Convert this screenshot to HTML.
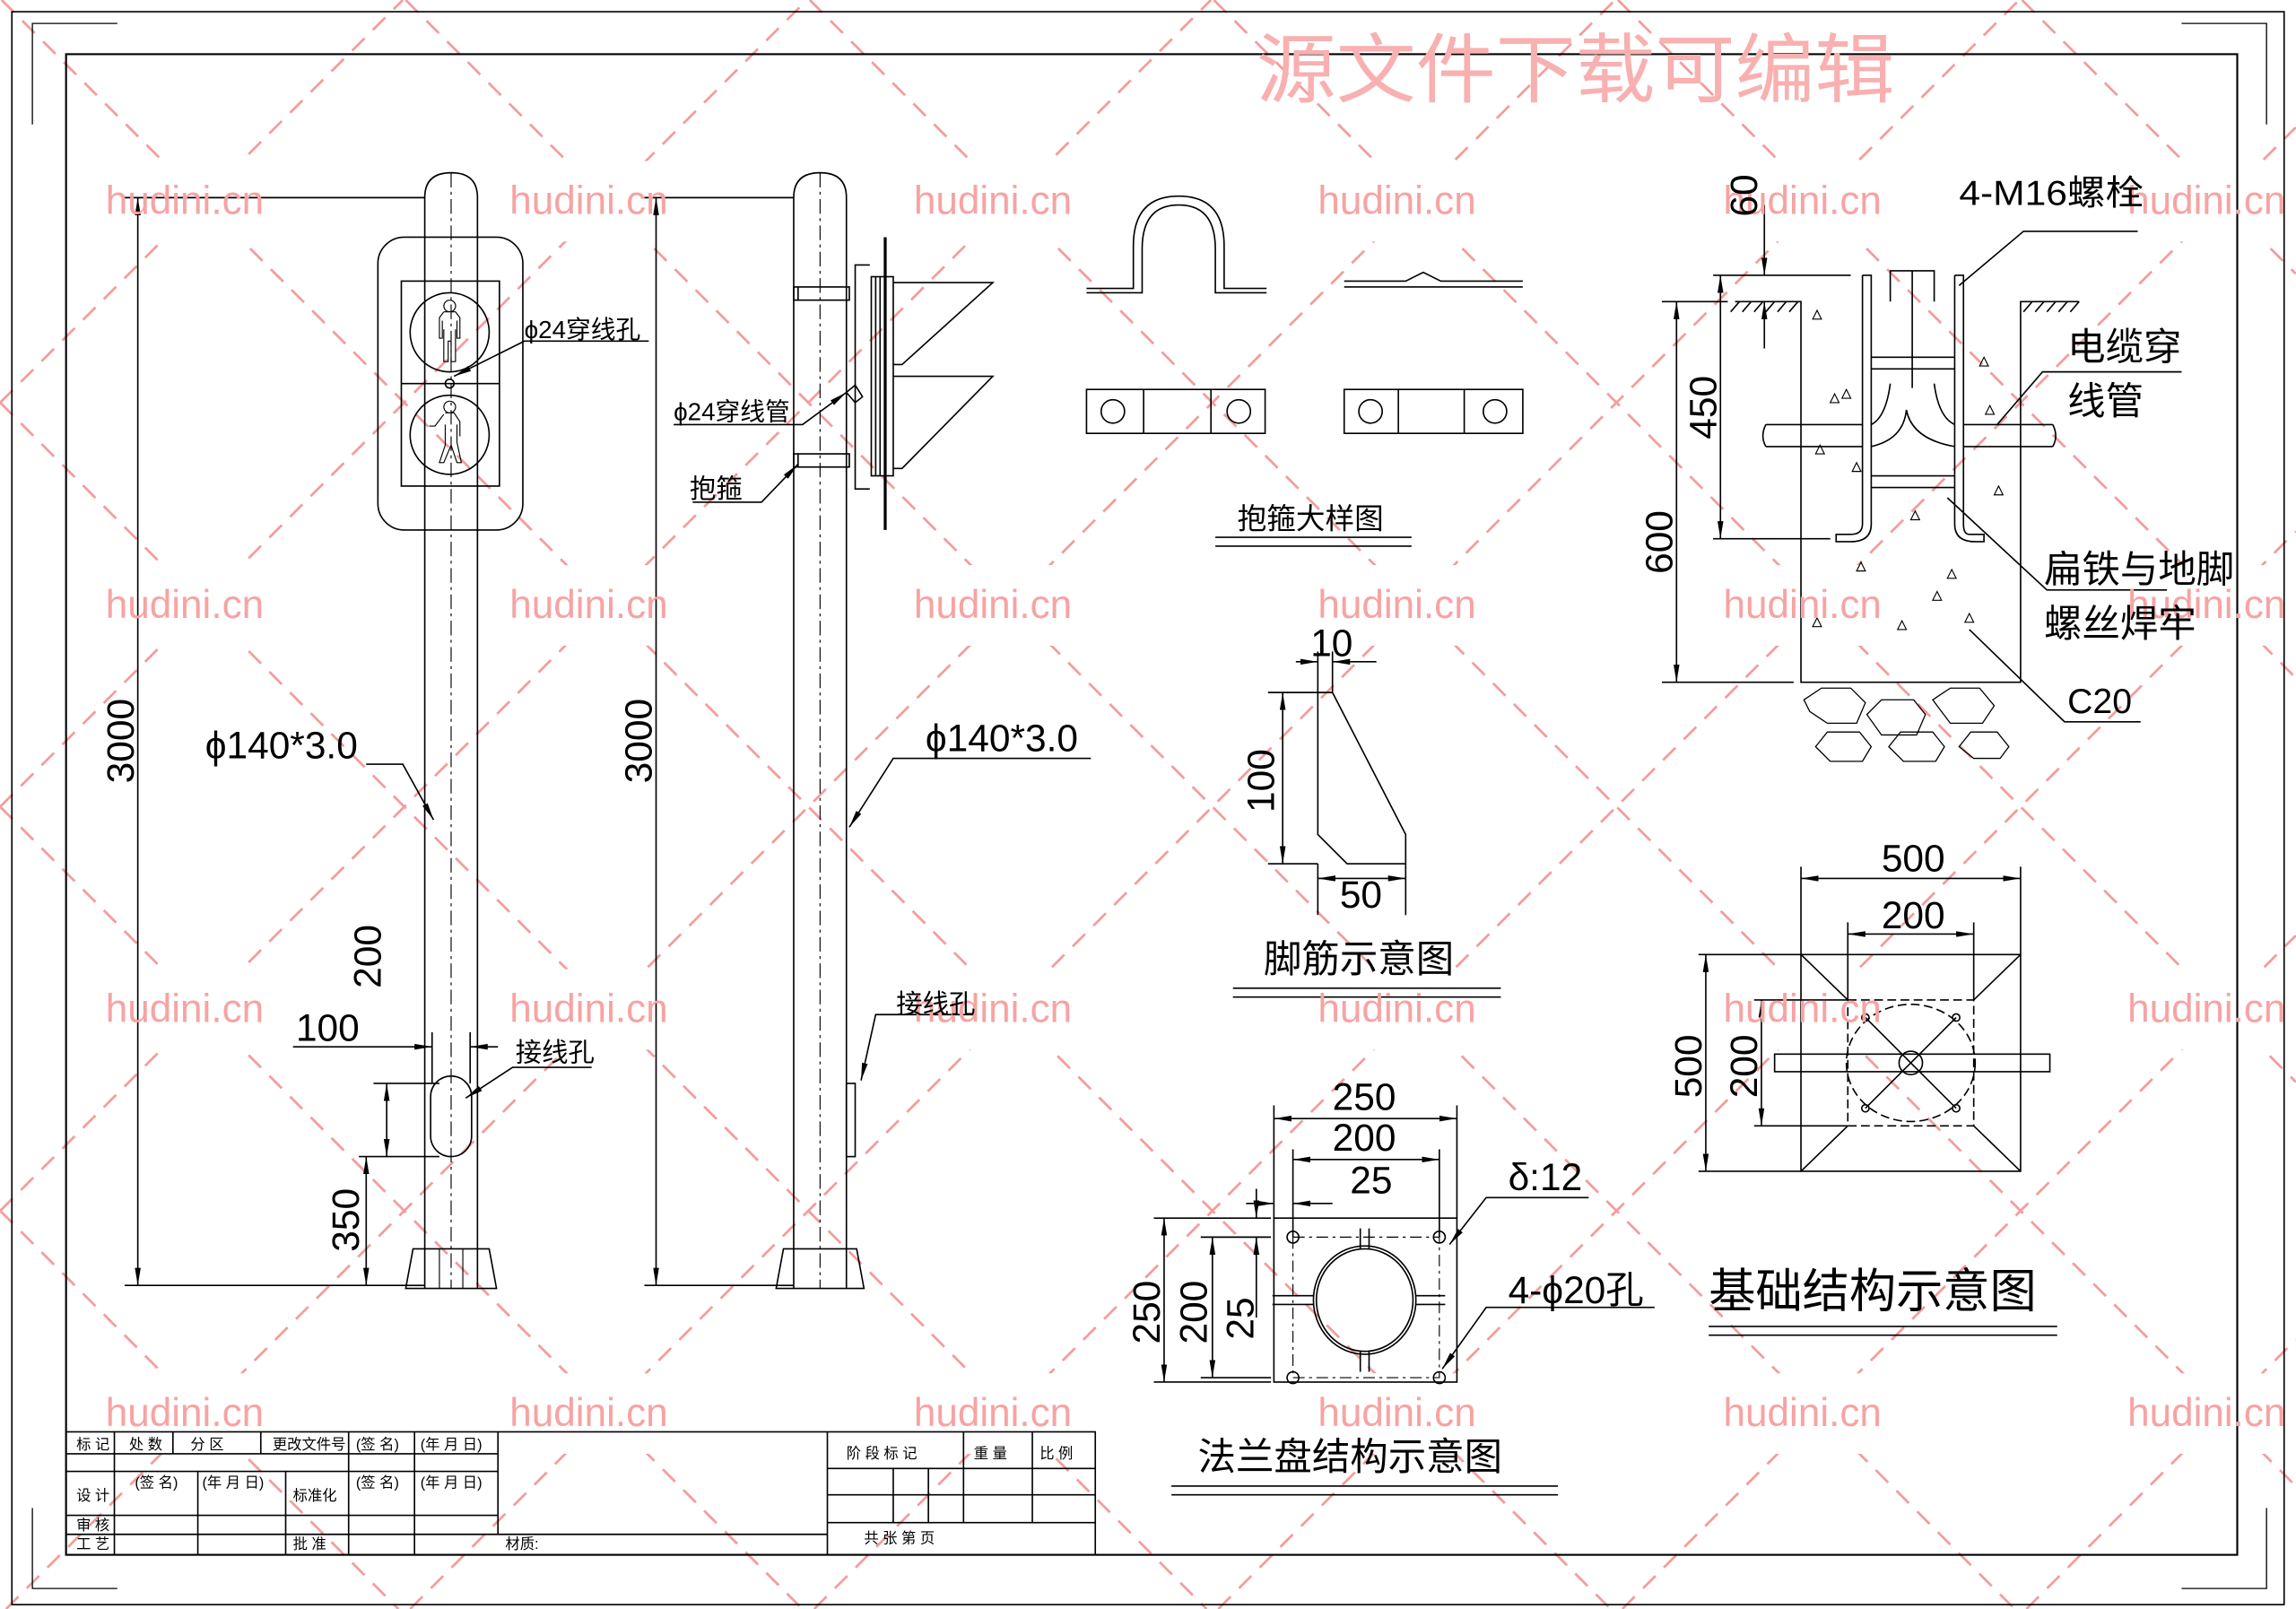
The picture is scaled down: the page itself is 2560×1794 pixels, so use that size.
<!DOCTYPE html>
<html><head><meta charset="utf-8"><style>
html,body{margin:0;padding:0;background:#fff;width:2560px;height:1794px;overflow:hidden}
svg{display:block;position:absolute;left:0;top:0}
text{font-family:"Liberation Sans","Noto Sans CJK SC",sans-serif}
.cn{font-family:"Liberation Serif","Noto Serif CJK SC","Noto Sans CJK SC",serif}
</style></head><body>
<svg width="2560" height="1794" viewBox="0 0 1568 1099" xmlns="http://www.w3.org/2000/svg">
<defs>
<marker id="ar" viewBox="0 0 12 4" refX="12" refY="2" markerWidth="12" markerHeight="4" markerUnits="userSpaceOnUse" orient="auto-start-reverse"><path d="M0 0L12 2L0 4Z" fill="#000"/></marker>
</defs>
<rect width="1568" height="1099" fill="#fff"/>
<g stroke="#f59c9c" stroke-width="1.7" stroke-dasharray="12,8" fill="none">
<line x1="0" y1="827" x2="272" y2="1099"/><line x1="0" y1="551" x2="548" y2="1099"/><line x1="0" y1="275" x2="824" y2="1099"/><line x1="1" y1="0" x2="1100" y2="1099"/><line x1="277" y1="0" x2="1376" y2="1099"/><line x1="553" y1="0" x2="1568" y2="1015"/><line x1="829" y1="0" x2="1568" y2="739"/><line x1="1105" y1="0" x2="1568" y2="463"/><line x1="1381" y1="0" x2="1568" y2="187"/>
<line x1="0" y1="275" x2="275" y2="0"/><line x1="0" y1="551" x2="551" y2="0"/><line x1="0" y1="827" x2="827" y2="0"/><line x1="4" y1="1099" x2="1103" y2="0"/><line x1="280" y1="1099" x2="1379" y2="0"/><line x1="556" y1="1099" x2="1568" y2="87"/><line x1="832" y1="1099" x2="1568" y2="363"/><line x1="1108" y1="1099" x2="1568" y2="639"/><line x1="1384" y1="1099" x2="1568" y2="915"/>
</g>
<g fill="#fff">
<rect x="88" y="110" width="95" height="55"/><rect x="364" y="110" width="95" height="55"/><rect x="640" y="110" width="95" height="55"/><rect x="916" y="110" width="95" height="55"/><rect x="1193" y="110" width="95" height="55"/><rect x="1469" y="110" width="95" height="55"/>
<rect x="88" y="386" width="95" height="55"/><rect x="364" y="386" width="95" height="55"/><rect x="640" y="386" width="95" height="55"/><rect x="916" y="386" width="95" height="55"/><rect x="1193" y="386" width="95" height="55"/><rect x="1469" y="386" width="95" height="55"/>
<rect x="88" y="662" width="95" height="55"/><rect x="364" y="662" width="95" height="55"/><rect x="640" y="662" width="95" height="55"/><rect x="916" y="662" width="95" height="55"/><rect x="1193" y="662" width="95" height="55"/><rect x="1469" y="662" width="95" height="55"/>
<rect x="88" y="938" width="95" height="55"/><rect x="364" y="938" width="95" height="55"/><rect x="640" y="938" width="95" height="55"/><rect x="916" y="938" width="95" height="55"/><rect x="1193" y="938" width="95" height="55"/><rect x="1469" y="938" width="95" height="55"/>
</g>

<g stroke="#000" fill="none" stroke-width="1">
<rect x="8" y="8" width="1552" height="1088"/>
<rect x="45" y="37" width="1483" height="1025" stroke-width="1.3"/>
<path d="M22 85 V16 H80 M1490 16 H1548 V85 M22 1030 V1085 H80 M1548 1030 V1085 H1490" stroke-width="0.8"/>
</g>

<g stroke="#000" fill="none" stroke-width="1">
<path d="M290 880 V135 Q290 118 308 118 Q326 118 326 135 V880"/>
<line x1="308" y1="118" x2="308" y2="880" stroke-dasharray="10,3,2,3" stroke-width="0.7"/>
<path d="M282 853 H334 L339 880 H277 Z"/>
<path d="M300 853 V880 M316 853 V880" stroke-width="0.7"/>
<rect x="258" y="162" width="99" height="200" rx="18"/>
<rect x="274" y="192" width="67" height="140"/>
<line x1="274" y1="262" x2="341" y2="262"/>
<circle cx="307" cy="227" r="27"/><circle cx="307" cy="297" r="27"/>
<circle cx="307" cy="262" r="3"/>
<path d="M307 205 a4 4 0 1 0 0.1 0 M303 213 h8 l3 4 v14 h-2 v-12 M302 219 v12 h-2 v-14 l3 -4 M303 225 v22 h3 v-14 h2 v14 h3 v-22" stroke-width="0.7"/>
<path d="M307 274 a4 4 0 1 0 0.1 0 M304 282 h6 l4 6 v10 M303 283 l-6 8 h-4 M304 290 v14 l-4 12 h3 l5 -12 l4 12 h3 l-3 -14 v-12" stroke-width="0.7"/>
<rect x="294" y="735" width="28" height="55" rx="14"/>
<line x1="94" y1="135" x2="94" y2="878" marker-start="url(#ar)" marker-end="url(#ar)"/>
<line x1="85" y1="135" x2="290" y2="135"/><line x1="85" y1="878" x2="290" y2="878"/>
<line x1="264" y1="740" x2="264" y2="790" marker-start="url(#ar)" marker-end="url(#ar)"/>
<line x1="250" y1="790" x2="250" y2="878" marker-start="url(#ar)" marker-end="url(#ar)"/>
<line x1="255" y1="740" x2="300" y2="740"/><line x1="245" y1="790" x2="300" y2="790"/>
<line x1="200" y1="715" x2="295" y2="715" marker-end="url(#ar)"/><line x1="340" y1="715" x2="321" y2="715" marker-end="url(#ar)"/>
<line x1="295" y1="705" x2="295" y2="740"/><line x1="321" y1="705" x2="321" y2="740"/>
<polyline points="250,522 275,522 296,560" marker-end="url(#ar)"/>
<polyline points="404,729 350,729 318,750" marker-end="url(#ar)"/>
<polyline points="443,233 358,233 310,257" marker-end="url(#ar)"/>
<path d="M542 880 V135 Q542 118 560 118 Q578 118 578 135 V880"/>
<line x1="560" y1="118" x2="560" y2="880" stroke-dasharray="10,3,2,3" stroke-width="0.7"/>
<path d="M535 853 H585 L590 880 H530 Z"/>
<rect x="578" y="740" width="6" height="50"/>
<line x1="604.5" y1="162" x2="604.5" y2="362" stroke-width="2"/>
<rect x="595" y="189" width="15" height="136"/>
<path d="M598 189 V325 M601 189 V325"/>
<path d="M594 181 H584 V334 H594"/>
<path d="M610 193 H678 L616 249 H610 M610 257 H678 L616 320 H610"/>
<rect x="542" y="196" width="38" height="9"/><rect x="542" y="310" width="38" height="9"/>
<path d="M545 196 V205 M545 310 V319"/>
<path d="M578 268 l6 -5 l5 8 l-5 4 Z"/>
<line x1="448" y1="135" x2="448" y2="878" marker-start="url(#ar)" marker-end="url(#ar)"/>
<line x1="440" y1="135" x2="542" y2="135"/><line x1="440" y1="878" x2="542" y2="878"/>
<polyline points="745,518 610,518 580,565" marker-end="url(#ar)"/>
<polyline points="665,693 598,693 588,738" marker-end="url(#ar)"/>
<polyline points="460,290 548,290 578,268" marker-end="url(#ar)"/>
<polyline points="473,343 520,343 545,317" marker-end="url(#ar)"/>
<path d="M742 200 H780 V170 Q780 140 805 140 Q830 140 830 170 V200 H865"/>
<path d="M742 197 L774 197 L774 168 Q774 134 805 134 Q836 134 836 168 V197 H865"/>
<path d="M918 192 H960 L972 186 L984 192 H1040 M918 196 H1040"/>
<rect x="742" y="266" width="122" height="30"/><line x1="781" y1="266" x2="781" y2="296"/><line x1="827" y1="266" x2="827" y2="296"/>
<circle cx="760" cy="281" r="8"/><circle cx="846" cy="281" r="8"/>
<rect x="918" y="266" width="122" height="30"/><line x1="955" y1="266" x2="955" y2="296"/><line x1="1000" y1="266" x2="1000" y2="296"/>
<circle cx="936" cy="281" r="8"/><circle cx="1021" cy="281" r="8"/>
<line x1="830" y1="367" x2="964" y2="367"/><line x1="830" y1="373" x2="964" y2="373"/>
<path d="M900 473 H910 L960 570 V590 H920 L900 570 Z"/>
<line x1="866" y1="473" x2="900" y2="473"/><line x1="866" y1="590" x2="900" y2="590"/>
<line x1="876" y1="473" x2="876" y2="590" marker-start="url(#ar)" marker-end="url(#ar)"/>
<line x1="885" y1="452" x2="900" y2="452" marker-end="url(#ar)"/><line x1="940" y1="452" x2="910" y2="452" marker-end="url(#ar)"/>
<line x1="900" y1="445" x2="900" y2="473"/><line x1="910" y1="445" x2="910" y2="473"/>
<line x1="900" y1="600" x2="960" y2="600" marker-start="url(#ar)" marker-end="url(#ar)"/><line x1="900" y1="590" x2="900" y2="625"/><line x1="960" y1="590" x2="960" y2="625"/>
<line x1="842" y1="675" x2="1025" y2="675"/><line x1="842" y1="681" x2="1025" y2="681"/>
<rect x="870" y="832" width="125" height="112"/>
<ellipse cx="932" cy="888" rx="35" ry="37"/><ellipse cx="932" cy="888" rx="33" ry="35"/>
<path d="M929 839 V853 M935 839 V853 M929 923 V937 M935 923 V937 M869 885 H897 M869 891 H897 M967 885 H987 M967 891 H987"/>
<path d="M883 845 H983 V941 H883 Z" stroke-dasharray="8,3,2,3" stroke-width="0.7"/>
<circle cx="883" cy="845" r="4"/><circle cx="983" cy="845" r="4"/><circle cx="883" cy="941" r="4"/><circle cx="983" cy="941" r="4"/>
<line x1="870" y1="764" x2="995" y2="764" marker-start="url(#ar)" marker-end="url(#ar)"/>
<line x1="883" y1="792" x2="983" y2="792" marker-start="url(#ar)" marker-end="url(#ar)"/>
<line x1="851" y1="822" x2="870" y2="822" marker-end="url(#ar)"/><line x1="910" y1="822" x2="883" y2="822" marker-end="url(#ar)"/>
<line x1="870" y1="755" x2="870" y2="832"/><line x1="995" y1="755" x2="995" y2="832"/><line x1="883" y1="785" x2="883" y2="845"/><line x1="983" y1="785" x2="983" y2="845"/>
<line x1="788" y1="832" x2="868" y2="832"/><line x1="788" y1="944" x2="868" y2="944"/><line x1="820" y1="845" x2="868" y2="845"/><line x1="820" y1="941" x2="868" y2="941"/>
<line x1="795" y1="832" x2="795" y2="944" marker-start="url(#ar)" marker-end="url(#ar)"/>
<line x1="828" y1="845" x2="828" y2="941" marker-start="url(#ar)" marker-end="url(#ar)"/>
<line x1="858" y1="812" x2="858" y2="832" marker-end="url(#ar)"/><line x1="858" y1="900" x2="858" y2="845" marker-end="url(#ar)"/>
<polyline points="1085,818 1015,818 990,850" marker-end="url(#ar)"/>
<polyline points="1130,893 1015,893 985,935" marker-end="url(#ar)"/>
<line x1="800" y1="1015" x2="1064" y2="1015"/><line x1="800" y1="1021" x2="1064" y2="1021"/>
<path d="M1185 206 H1230 V466 H1380 V206 H1420"/>
<path d="M1188 206 l-6 7 M1196 206 l-6 7 M1204 206 l-6 7 M1212 206 l-6 7 M1220 206 l-6 7 M1228 206 l-6 7 M1388 206 l-6 7 M1396 206 l-6 7 M1404 206 l-6 7 M1412 206 l-6 7 M1420 206 l-6 7"/>
<path d="M1291 206 V185 H1321 V206 M1306 185 V265"/>
<path d="M1272 188 V358 Q1272 365 1264 365 H1254 V370 H1264 Q1278 370 1278 358 V188 H1272"/>
<path d="M1335 188 V358 Q1335 370 1349 370 H1355 V365 H1345 Q1341 365 1341 358 V188 H1335"/>
<path d="M1278 244 H1335 M1278 252 H1335 M1278 325 H1335 M1278 333 H1335"/>
<path d="M1206 290 H1272 M1206 305 H1272 M1341 290 H1402 M1341 305 H1402 M1206 290 q-4 8 0 15 M1402 290 q4 8 0 15"/>
<path d="M1291 262 Q1288 285 1278 290 M1321 262 Q1324 285 1335 290 M1278 305 Q1300 300 1302 280 Q1306 300 1335 305"/>
<path d="M1238 218 l3 -6 l3 6Z M1250 275 l3 -6 l3 6Z M1258 272 l3 -6 l3 6Z M1352 250 l3 -6 l3 6Z M1356 283 l3 -6 l3 6Z M1240 310 l3 -6 l3 6Z M1265 322 l3 -6 l3 6Z M1305 355 l3 -6 l3 6Z M1268 390 l3 -6 l3 6Z M1320 410 l3 -6 l3 6Z M1238 428 l3 -6 l3 6Z M1296 430 l3 -6 l3 6Z M1342 425 l3 -6 l3 6Z M1362 338 l3 -6 l3 6Z M1330 395 l3 -6 l3 6Z" stroke-width="0.7"/>
<path d="M1232 478 l12 -8 h20 l10 10 l-6 14 h-20 l-12 -8 Z M1275 488 l10 -10 h22 l8 10 l-6 14 h-24 Z M1320 478 l12 -8 h20 l10 12 l-8 12 h-22 Z M1240 510 l8 -10 h22 l8 10 l-6 10 h-22 Z M1290 510 l8 -10 h22 l8 10 l-6 10 h-22 Z M1338 510 l8 -10 h18 l8 10 l-6 8 h-18 Z" stroke-width="0.8"/>
<line x1="1145" y1="206" x2="1145" y2="466" marker-start="url(#ar)" marker-end="url(#ar)"/><line x1="1135" y1="206" x2="1180" y2="206"/><line x1="1135" y1="466" x2="1225" y2="466"/>
<line x1="1175" y1="188" x2="1175" y2="368" marker-start="url(#ar)" marker-end="url(#ar)"/><line x1="1170" y1="368" x2="1250" y2="368"/><line x1="1170" y1="188" x2="1264" y2="188"/>
<line x1="1205" y1="140" x2="1205" y2="188" marker-end="url(#ar)"/><line x1="1205" y1="238" x2="1205" y2="206" marker-end="url(#ar)"/>
<polyline points="1460,158 1382,158 1338,195"/>
<polyline points="1490,254 1395,254 1364,290"/>
<polyline points="1480,403 1398,403 1330,340"/>
<polyline points="1462,493 1410,493 1345,430"/>
<rect x="1230" y="652" width="150" height="148"/>
<path d="M1230 652 L1262 683 M1380 652 L1348 683 M1230 800 L1262 769 M1380 800 L1348 769"/>
<rect x="1262" y="683" width="86" height="86" stroke-dasharray="6,3"/>
<ellipse cx="1305" cy="726" rx="44" ry="40" stroke-dasharray="6,3"/>
<circle cx="1305" cy="726" r="8"/>
<path d="M1274 695 L1336 757 M1336 695 L1274 757"/>
<circle cx="1274" cy="695" r="2.5"/><circle cx="1336" cy="695" r="2.5"/><circle cx="1274" cy="757" r="2.5"/><circle cx="1336" cy="757" r="2.5"/>
<rect x="1212" y="720" width="188" height="12"/>
<line x1="1230" y1="600" x2="1380" y2="600" marker-start="url(#ar)" marker-end="url(#ar)"/><line x1="1262" y1="638" x2="1348" y2="638" marker-start="url(#ar)" marker-end="url(#ar)"/>
<line x1="1230" y1="592" x2="1230" y2="652"/><line x1="1380" y1="592" x2="1380" y2="652"/>
<line x1="1262" y1="630" x2="1262" y2="683"/><line x1="1348" y1="630" x2="1348" y2="683"/>
<line x1="1165" y1="652" x2="1165" y2="800" marker-start="url(#ar)" marker-end="url(#ar)"/><line x1="1160" y1="652" x2="1230" y2="652"/><line x1="1160" y1="800" x2="1230" y2="800"/>
<line x1="1203" y1="683" x2="1203" y2="769" marker-start="url(#ar)" marker-end="url(#ar)"/><line x1="1198" y1="683" x2="1262" y2="683"/><line x1="1198" y1="769" x2="1262" y2="769"/>
<line x1="1167" y1="906" x2="1405" y2="906"/><line x1="1167" y1="912" x2="1405" y2="912"/>
<rect x="45" y="978" width="703" height="84"/>
<line x1="45" y1="993" x2="340" y2="993"/><line x1="45" y1="1005" x2="340" y2="1005"/><line x1="45" y1="1035" x2="340" y2="1035"/><line x1="45" y1="1048" x2="565" y2="1048"/>
<line x1="340" y1="978" x2="340" y2="1048"/><line x1="565" y1="978" x2="565" y2="1062"/>
<line x1="78" y1="978" x2="78" y2="1062"/><line x1="118" y1="978" x2="118" y2="993"/><line x1="135" y1="1005" x2="135" y2="1062"/>
<line x1="178" y1="978" x2="178" y2="993"/><line x1="195" y1="1005" x2="195" y2="1062"/><line x1="238" y1="978" x2="238" y2="1062"/><line x1="283" y1="978" x2="283" y2="1062"/>
<line x1="565" y1="1003" x2="748" y2="1003"/><line x1="565" y1="1021" x2="748" y2="1021"/><line x1="565" y1="1040" x2="748" y2="1040"/>
<line x1="610" y1="1003" x2="610" y2="1040"/><line x1="634" y1="1003" x2="634" y2="1040"/><line x1="658" y1="978" x2="658" y2="1040"/><line x1="705" y1="978" x2="705" y2="1040"/>
</g>
<g fill="#f7a3a3" font-size="27">
<text x="72" y="146">hudini.cn</text><text x="348" y="146">hudini.cn</text><text x="624" y="146">hudini.cn</text><text x="900" y="146">hudini.cn</text><text x="1177" y="146">hudini.cn</text><text x="1453" y="146">hudini.cn</text>
<text x="72" y="422">hudini.cn</text><text x="348" y="422">hudini.cn</text><text x="624" y="422">hudini.cn</text><text x="900" y="422">hudini.cn</text><text x="1177" y="422">hudini.cn</text><text x="1453" y="422">hudini.cn</text>
<text x="72" y="698">hudini.cn</text><text x="348" y="698">hudini.cn</text><text x="624" y="698">hudini.cn</text><text x="900" y="698">hudini.cn</text><text x="1177" y="698">hudini.cn</text><text x="1453" y="698">hudini.cn</text>
<text x="72" y="974">hudini.cn</text><text x="348" y="974">hudini.cn</text><text x="624" y="974">hudini.cn</text><text x="900" y="974">hudini.cn</text><text x="1177" y="974">hudini.cn</text><text x="1453" y="974">hudini.cn</text>
<text x="858" y="66" font-size="52" fill="#f8b0b0" textLength="436" lengthAdjust="spacingAndGlyphs">源文件下载可编辑</text>
</g>
<g font-size="26" fill="#000">
<text transform="translate(91,535) rotate(-90)">3000</text>
<text transform="translate(445,535) rotate(-90)">3000</text>
<text x="140" y="518">ϕ140*3.0</text>
<text x="632" y="513">ϕ140*3.0</text>
<text x="202" y="711">100</text>
<text transform="translate(260,675) rotate(-90)">200</text>
<text transform="translate(245,855) rotate(-90)">350</text>
<text x="895" y="448">10</text>
<text transform="translate(870,555) rotate(-90)">100</text>
<text x="915" y="620">50</text>
<text x="910" y="758">250</text><text x="910" y="786">200</text><text x="922" y="815">25</text>
<text x="1030" y="813">δ:12</text>
<text x="1030" y="890">4-ϕ20孔</text>
<text transform="translate(792,918) rotate(-90)">250</text>
<text transform="translate(824,918) rotate(-90)">200</text>
<text transform="translate(856,915) rotate(-90)">25</text>
<text x="1285" y="595">500</text><text x="1285" y="634">200</text>
<text transform="translate(1162,750) rotate(-90)">500</text>
<text transform="translate(1200,750) rotate(-90)">200</text>
<text transform="translate(1200,148) rotate(-90)">60</text>
<text transform="translate(1172,300) rotate(-90)">450</text>
<text transform="translate(1142,392) rotate(-90)">600</text>
</g>
<g class="cn" fill="#000">
<text x="358" y="231" font-size="17">ϕ24穿线孔</text>
<text x="460" y="287" font-size="17">ϕ24穿线管</text>
<text x="471" y="340" font-size="18">抱箍</text>
<text x="352" y="725" font-size="18">接线孔</text>
<text x="612" y="692" font-size="18">接线孔</text>
<text x="845" y="361" font-size="20">抱箍大样图</text>
<text x="863" y="664" font-size="26">脚筋示意图</text>
<text x="818" y="1004" font-size="26">法兰盘结构示意图</text>
<text x="1167" y="893" font-size="32">基础结构示意图</text>
<text x="1338" y="140" font-size="24" textLength="126" lengthAdjust="spacingAndGlyphs">4-M16螺栓</text>
<text x="1412" y="246" font-size="26">电缆穿</text><text x="1412" y="283" font-size="26">线管</text>
<text x="1396" y="398" font-size="26">扁铁与地脚</text><text x="1396" y="435" font-size="26">螺丝焊牢</text>
<text x="1412" y="487" font-size="24">C20</text>
<g font-size="10">
<text x="52" y="990">标 记</text><text x="88" y="990">处 数</text><text x="130" y="990">分 区</text><text x="186" y="990">更改文件号</text><text x="243" y="990">(签 名)</text><text x="287" y="990">(年 月 日)</text>
<text x="92" y="1016">(签 名)</text><text x="138" y="1016">(年 月 日)</text><text x="243" y="1016">(签 名)</text><text x="287" y="1016">(年 月 日)</text>
<text x="52" y="1025">设  计</text><text x="200" y="1025">标准化</text>
<text x="52" y="1045">审  核</text><text x="52" y="1058">工  艺</text><text x="200" y="1058">批  准</text><text x="345" y="1058">材质:</text>
<text x="578" y="996">阶 段 标 记</text><text x="665" y="996">重 量</text><text x="710" y="996">比 例</text>
<text x="590" y="1054">共      张      第      页</text>
</g>
</g>
</svg>
</body></html>
